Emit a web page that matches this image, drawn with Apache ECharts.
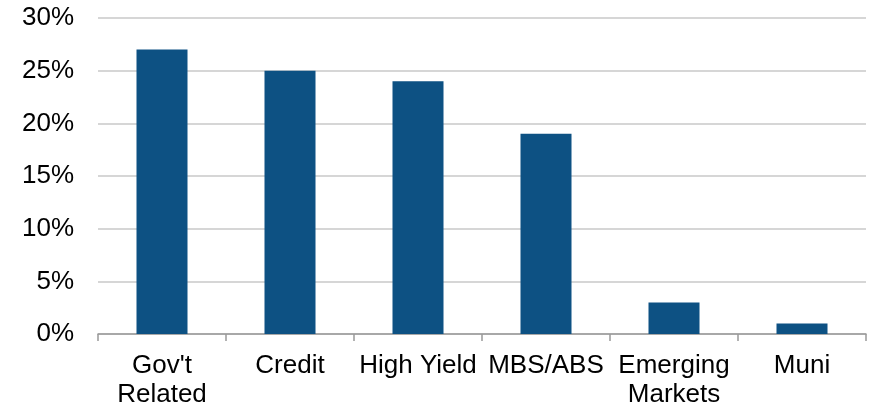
<!DOCTYPE html>
<html>
<head>
<meta charset="utf-8">
<script src="https://cdn.jsdelivr.net/npm/echarts@6/dist/echarts.min.js"></script>
<style>html,body{margin:0;padding:0;background:#fff;}#c{width:869px;height:410px;}</style>
</head>
<body>
<div id="c"></div>
<script>
const categories = ["Gov't\nRelated", "Credit", "High Yield", "MBS/ABS", "Emerging\nMarkets", "Muni"];
const values = [27, 25, 24, 19, 3, 1];
const yTicks = { min: 0, max: 30, interval: 5 };

const chart = echarts.init(document.getElementById('c'), null, { renderer: 'canvas' });
chart.setOption({
  animation: false,
  grid: { left: 98, right: 3, top: 18, bottom: 76 },
  xAxis: {
    type: 'category',
    data: categories,
    axisLine: { lineStyle: { color: '#999999', width: 1.5 } },
    axisTick: { show: true, length: 7, lineStyle: { color: '#999999', width: 1.5 } },
    axisLabel: { color: '#000', fontFamily: 'Liberation Sans, Arial', fontSize: 26, lineHeight: 29, margin: 17, interval: 0 }
  },
  yAxis: {
    type: 'value',
    min: yTicks.min, max: yTicks.max, interval: yTicks.interval,
    axisLine: { show: false },
    axisTick: { show: false },
    splitLine: { lineStyle: { color: '#c8c8c8', width: 1.5 } },
    axisLabel: { color: '#000', fontFamily: 'Liberation Sans, Arial', fontSize: 26, margin: 24, formatter: v => v + '%' }
  },
  series: [{
    type: 'bar',
    data: values,
    barWidth: 51,
    itemStyle: { color: '#0d5183' }
  }]
});
</script>
</body>
</html>
